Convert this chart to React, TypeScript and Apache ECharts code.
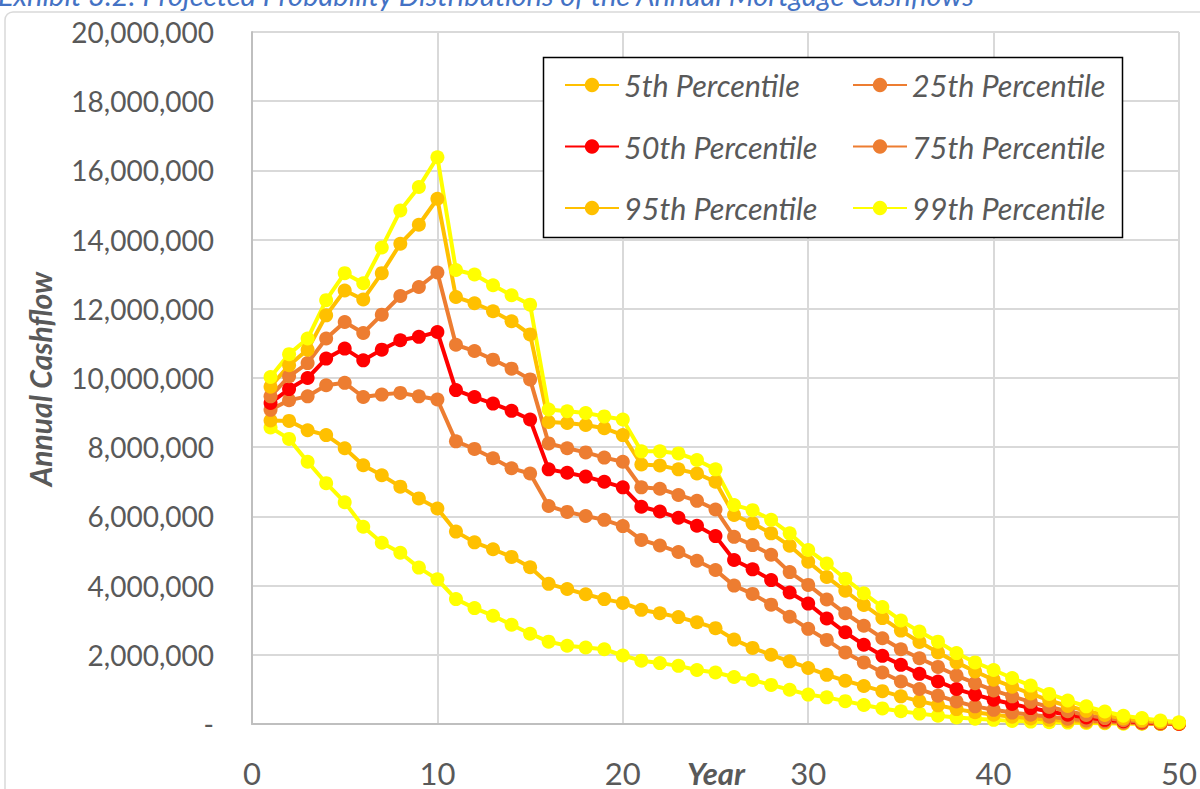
import React, { useEffect, useRef } from "react";
import * as echarts from "echarts";

const years = [1,2,3,4,5,6,7,8,9,10,11,12,13,14,15,16,17,18,19,20,21,22,23,24,25,26,27,28,29,30,31,32,33,34,35,36,37,38,39,40,41,42,43,44,45,46,47,48,49,50];

// values in millions
const p1 = [8.57,8.24,7.58,6.96,6.41,5.70,5.24,4.95,4.52,4.18,3.61,3.35,3.13,2.87,2.61,2.38,2.26,2.21,2.16,1.98,1.83,1.76,1.68,1.56,1.49,1.36,1.27,1.13,0.99,0.85,0.77,0.66,0.55,0.45,0.37,0.30,0.24,0.19,0.15,0.12,0.09,0.07,0.05,0.04,0.03,0.02,0.01,0.01,0.0,0.0];
const p5 = [8.77,8.76,8.49,8.35,7.97,7.48,7.19,6.86,6.52,6.23,5.56,5.25,5.05,4.83,4.53,4.05,3.90,3.75,3.61,3.50,3.30,3.20,3.09,2.94,2.77,2.44,2.20,2.00,1.81,1.62,1.42,1.25,1.10,0.95,0.80,0.66,0.54,0.43,0.34,0.27,0.21,0.16,0.12,0.09,0.06,0.04,0.03,0.02,0.01,0.0];
const p25 = [9.08,9.36,9.47,9.79,9.86,9.45,9.52,9.57,9.47,9.38,8.17,7.95,7.68,7.39,7.24,6.30,6.13,6.01,5.90,5.72,5.32,5.16,4.97,4.72,4.45,4.00,3.76,3.45,3.10,2.75,2.43,2.07,1.78,1.49,1.23,1.01,0.82,0.65,0.51,0.41,0.33,0.27,0.21,0.15,0.10,0.07,0.04,0.02,0.01,0.0];
const p50 = [9.28,9.68,10.00,10.56,10.85,10.51,10.82,11.09,11.19,11.33,9.65,9.45,9.26,9.05,8.80,7.36,7.26,7.15,7.00,6.84,6.28,6.14,5.96,5.73,5.43,4.74,4.47,4.16,3.80,3.48,3.05,2.65,2.29,1.97,1.71,1.45,1.23,1.01,0.85,0.70,0.58,0.46,0.36,0.27,0.19,0.12,0.08,0.05,0.03,0.01];
const p75 = [9.47,10.05,10.43,11.14,11.62,11.30,11.83,12.37,12.63,13.05,10.96,10.78,10.53,10.27,9.96,8.11,7.97,7.85,7.70,7.58,6.84,6.80,6.62,6.45,6.20,5.41,5.17,4.89,4.39,4.02,3.60,3.20,2.84,2.48,2.16,1.90,1.65,1.40,1.18,0.97,0.80,0.64,0.49,0.37,0.26,0.17,0.11,0.07,0.04,0.02];
const p95 = [9.75,10.37,10.82,11.81,12.53,12.27,13.03,13.88,14.43,15.18,12.34,12.16,11.93,11.64,11.26,8.73,8.70,8.64,8.55,8.35,7.50,7.47,7.36,7.24,7.00,6.04,5.80,5.51,5.15,4.69,4.25,3.85,3.44,3.06,2.70,2.37,2.07,1.78,1.52,1.28,1.08,0.88,0.68,0.52,0.38,0.26,0.16,0.10,0.06,0.03];
const p99 = [10.03,10.69,11.14,12.25,13.03,12.74,13.77,14.84,15.52,16.38,13.12,12.99,12.68,12.39,12.12,9.09,9.04,8.99,8.89,8.80,7.88,7.88,7.82,7.63,7.36,6.33,6.18,5.90,5.51,5.03,4.64,4.20,3.78,3.38,2.99,2.67,2.38,2.05,1.78,1.56,1.33,1.11,0.87,0.68,0.51,0.36,0.24,0.17,0.10,0.05];

const seriesDefs = [
  { name: "1st Percentile", data: p1, color: "#FFFF00" },
  { name: "5th Percentile", data: p5, color: "#FFC000" },
  { name: "25th Percentile", data: p25, color: "#ED7D31" },
  { name: "50th Percentile", data: p50, color: "#FF0000" },
  { name: "75th Percentile", data: p75, color: "#ED7D31" },
  { name: "95th Percentile", data: p95, color: "#FFC000" },
  { name: "99th Percentile", data: p99, color: "#FFFF00" },
];

const legendCol1 = ["5th Percentile", "50th Percentile", "95th Percentile"];
const legendCol2 = ["25th Percentile", "75th Percentile", "99th Percentile"];

const FONT = "Lato, 'Liberation Sans', sans-serif";

export default function App() {
  const ref = useRef<HTMLDivElement>(null);
  useEffect(() => {
    if (!ref.current) return;
    const chart = echarts.init(ref.current, null, { renderer: "svg" });
    const legendCommon = {
      orient: "vertical",
      itemWidth: 54,
      itemHeight: 18,
      itemGap: 31.5,
      padding: 0,
      z: 10,
      selectedMode: false,
      textStyle: {
        fontFamily: FONT,
        fontStyle: "italic",
        fontSize: 30.5,
        color: "#595959",
        lineHeight: 30,
      },
    };
    chart.setOption({
      animation: false,
      backgroundColor: "#ffffff",
      grid: { left: 252, right: 21, top: 32, bottom: 65 },
      xAxis: {
        type: "value",
        min: 0,
        max: 50,
        interval: 10,
        axisLine: { show: true, lineStyle: { color: "#bfbfbf", width: 2 } },
        axisTick: { show: false },
        splitLine: { show: true, lineStyle: { color: "#d9d9d9", width: 2 } },
        axisLabel: { fontFamily: FONT, fontSize: 31, color: "#595959", margin: 33 },
      },
      yAxis: {
        type: "value",
        min: 0,
        max: 20000000,
        interval: 2000000,
        axisLine: { show: true, lineStyle: { color: "#bfbfbf", width: 2 } },
        axisTick: { show: false },
        splitLine: { show: true, lineStyle: { color: "#d9d9d9", width: 2 } },
        axisLabel: {
          fontFamily: FONT,
          fontSize: 28,
          color: "#595959",
          margin: 38,
          formatter: (v: number) => (v === 0 ? "-" : v.toLocaleString("en-US")),
        },
      },
      legend: [
        { ...legendCommon, data: legendCol1, left: 564, top: 70 },
        { ...legendCommon, data: legendCol2, left: 852, top: 70 },
      ],
      graphic: [
        {
          type: "rect",
          shape: { x: 5, y: 12, width: 1210, height: 800, r: 8 },
          style: { fill: "none", stroke: "#d9d9d9", lineWidth: 1.5 },
          silent: true,
          z: -10,
        },
        {
          type: "rect",
          shape: { x: 543.5, y: 57.5, width: 579, height: 180 },
          style: { fill: "#ffffff", stroke: "#000000", lineWidth: 1.5 },
          silent: true,
          z: 3,
        },
        {
          type: "text",
          x: -2,
          y: -6,
          style: {
            text: "Exhibit 3.2: Projected Probability Distributions of the Annual Mortgage Cashflows",
            font: "italic 29px " + FONT,
            fill: "#4472C4",
            verticalAlign: "middle",
          },
        },
        {
          type: "text",
          x: 716,
          y: 773,
          style: {
            text: "Year",
            font: "italic bold 31px " + FONT,
            fill: "#595959",
            align: "center",
            verticalAlign: "middle",
          },
        },
        {
          type: "text",
          x: 40,
          y: 379,
          rotation: Math.PI / 2,
          style: {
            text: "Annual Cashflow",
            font: "italic bold 30px " + FONT,
            fill: "#595959",
            align: "center",
            verticalAlign: "middle",
          },
        },
      ],
      series: seriesDefs.map((s) => ({
        name: s.name,
        type: "line",
        data: years.map((y, i) => [y, s.data[i] * 1000000]),
        symbol: "circle",
        symbolSize: 14,
        showSymbol: true,
        lineStyle: { color: s.color, width: 4 },
        itemStyle: { color: s.color },
        emphasis: { disabled: true },
      })),
    });
    return () => chart.dispose();
  }, []);
  return (
    <div
      ref={ref}
      style={{ position: "absolute", left: 0, top: 0, width: 1200, height: 789 }}
    />
  );
}
